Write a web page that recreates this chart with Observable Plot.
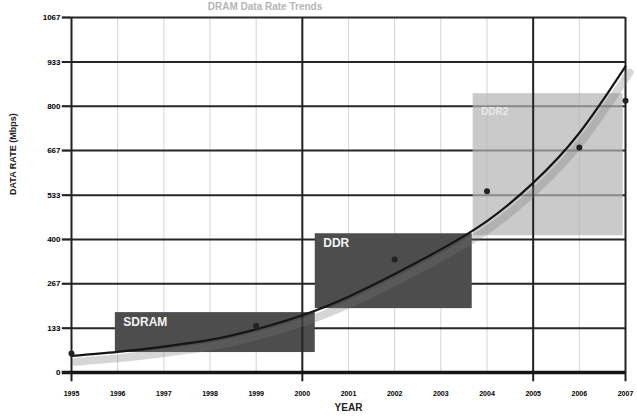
<!DOCTYPE html>
<html>
<head>
<meta charset="utf-8">
<script src="https://cdn.jsdelivr.net/npm/d3@7"></script>
<script src="https://cdn.jsdelivr.net/npm/@observablehq/plot@0.6"></script>
<style>
  html, body { margin: 0; padding: 0; background: #fff; overflow: hidden; }
  #wrap { position: relative; width: 637px; height: 418px; }
  #title { position: absolute; top: 1px; left: 150px; width: 230px; text-align: center;
           font: bold 10px/11px "Liberation Sans", Arial, sans-serif; color: #b5b5b5; }
</style>
</head>
<body>
<div id="wrap"><div id="title">DRAM Data Rate Trends</div></div>
<script>
const years = [1995, 1996, 1997, 1998, 1999, 2000, 2001, 2002, 2003, 2004, 2005, 2006, 2007];
const curveRate = [50, 62, 78, 98, 130, 172, 228, 296, 370, 455, 570, 720, 920];
const pointYears = [1995, 1999, 2002, 2004, 2006, 2007];
const pointRates = [57, 140, 340, 545, 676, 817];
const boxNames = ["SDRAM", "DDR", "DDR2"];
const boxStart = [1995.95, 2000.28, 2003.7];
const boxEnd = [2000.28, 2003.68, 2006.95];
const boxLow = [60, 192, 411];
const boxHigh = [180, 417, 838];
const yTickLabels = ["0", "133", "267", "400", "533", "667", "800", "933", "1067"];
const majorYears = [1995, 2000, 2005, 2007];

const yTicks = yTickLabels.map(Number);
const curve = years.map((y, i) => ({year: y, rate: curveRate[i]}));
const pts = pointYears.map((y, i) => ({year: y, rate: pointRates[i]}));
const boxes = boxNames.map((n, i) => ({name: n, x1: boxStart[i], x2: boxEnd[i], y1: boxLow[i], y2: boxHigh[i]}));
const darkBoxes = boxes.slice(0, 2);
const lightBoxes = boxes.slice(2);

const font = "'Liberation Sans', Arial, sans-serif";

const chart = Plot.plot({
  width: 637,
  height: 418,
  marginLeft: 71,
  marginRight: 12,
  marginTop: 17,
  marginBottom: 46,
  style: {fontFamily: font, background: "transparent"},
  x: {domain: [1995, 2007]},
  y: {domain: [0, 1067]},
  marks: [
    Plot.ruleX(years, {stroke: "#d4d4d4", strokeWidth: 1}),
    Plot.ruleY(yTicks.slice(1), {x1: 1994.8, x2: 2007, stroke: "#262626", strokeWidth: 2}),
    Plot.rect(darkBoxes, {x1: "x1", x2: "x2", y1: "y1", y2: "y2", fill: "#4d4d4d"}),
    Plot.rect(lightBoxes, {x1: "x1", x2: "x2", y1: "y1", y2: "y2", fill: "#b4b4b4", fillOpacity: 0.7}),
    Plot.ruleX(majorYears, {y1: -28, y2: 1067, stroke: "#222", strokeWidth: 2}),
    Plot.ruleY([0], {x1: 1994.8, x2: 2007, stroke: "#151515", strokeWidth: 3.5}),
    Plot.line(curve, {x: "year", y: "rate", curve: "natural", stroke: "#777", strokeWidth: 8, strokeOpacity: 0.3, dx: 4, dy: 6}),
    Plot.line(curve, {x: "year", y: "rate", curve: "natural", stroke: "#151515", strokeWidth: 2.2}),
    Plot.dot(pts, {x: "year", y: "rate", r: 3, fill: "#222", stroke: "none"}),
    Plot.text(darkBoxes, {x: "x1", y: "y2", text: "name", textAnchor: "start", lineAnchor: "top", dx: 8, dy: 5, fill: "#f4f4f4", fontWeight: "bold", fontSize: 12}),
    Plot.text(lightBoxes, {x: "x1", y: "y2", text: "name", textAnchor: "start", lineAnchor: "top", dx: 8, dy: 14, fill: "#e8e8e8", fontWeight: "bold", fontSize: 10}),
    Plot.axisY({ticks: yTicks, tickFormat: (d, i) => yTickLabels[i], tickSize: 9, tickPadding: 2, fontSize: 8, fontWeight: "bold", label: null, stroke: "#222", strokeWidth: 1.5}),
    Plot.axisX({ticks: years, tickFormat: d => String(d), tickSize: 0, tickPadding: 19, fontSize: 7, fontWeight: "bold", label: null}),
    Plot.text(["YEAR"], {frameAnchor: "bottom", dy: 38, fontWeight: "bold", fontSize: 10, fill: "#222"}),
    Plot.text(["DATA RATE (Mbps)"], {frameAnchor: "left", dx: -58, rotate: -90, fontWeight: "bold", fontSize: 9, fill: "#222"})
  ]
});
document.getElementById("wrap").appendChild(chart);
</script>
</body>
</html>
